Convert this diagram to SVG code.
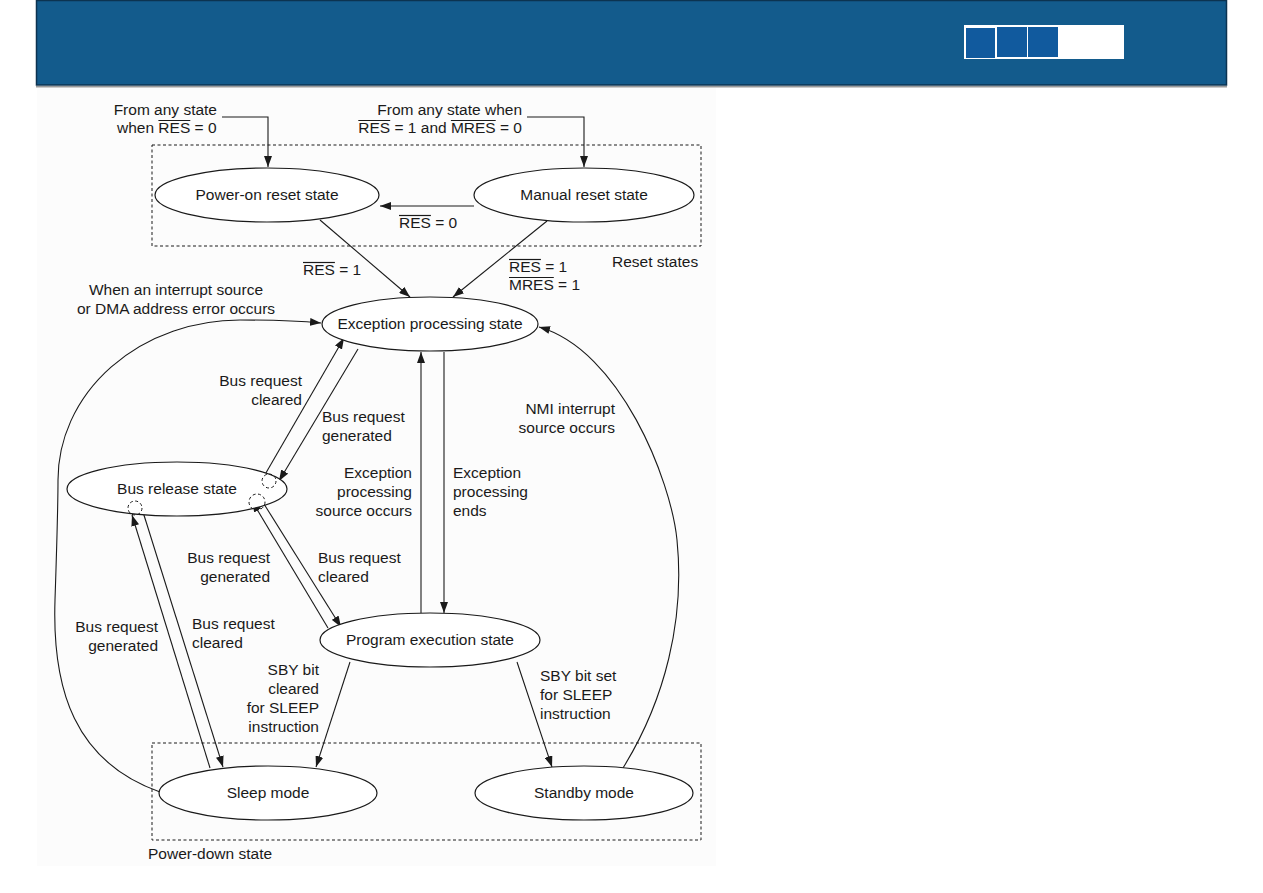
<svg xmlns="http://www.w3.org/2000/svg" width="1263" height="893" viewBox="0 0 1263 893">
<style>
text{font-family:"Liberation Sans",Arial,sans-serif;font-size:15.5px;fill:#1a1a1a}
.node ellipse{fill:#fff;stroke:#1a1a1a;stroke-width:1.2}
.c{text-anchor:middle}
.r{text-anchor:end}
.ovl line{stroke:#1a1a1a;stroke-width:1.2}
.conn path,.conn line,.conn polyline{fill:none;stroke:#1a1a1a;stroke-width:1.1;marker-end:url(#ah)}
.dash{fill:none;stroke:#1a1a1a;stroke-width:1;stroke-dasharray:3 2.5}
</style>
<defs>
<marker id="ah" markerUnits="userSpaceOnUse" markerWidth="11" markerHeight="8" refX="11" refY="4" orient="auto"><path d="M0,0 L11,4 L0,8 z" fill="#1a1a1a"/></marker>
</defs>
<rect width="1263" height="893" fill="#fff"/>
<g id="header">
<rect x="36" y="86" width="1191" height="1.5" fill="#9a9a9a"/>
<rect x="36.5" y="0.5" width="1190" height="84.5" fill="#135B8C" stroke="#0c3350" stroke-width="1.5"/>
<rect x="964" y="25" width="160" height="34" fill="#fff"/>
<rect x="966" y="28" width="29" height="30" fill="#115A9E"/>
<rect x="997" y="27" width="30" height="30" fill="#115A9E"/>
<rect x="1028" y="27" width="30" height="30" fill="#115A9E"/>
</g>
<rect x="37" y="88" width="679" height="778" fill="#fcfcfc"/>
<g id="groups">
<rect class="dash" x="152" y="145" width="549" height="101"/>
<text x="612" y="267">Reset states</text>
<rect class="dash" x="152" y="743" width="549" height="97"/>
<text x="148" y="859">Power-down state</text>
</g>
<g class="conn" id="connectors">
<polyline points="222,117 268,117 268,167"/>
<polyline points="527,117 584,117 584,167"/>
<line x1="474" y1="206" x2="380" y2="206"/>
<line x1="320" y1="220" x2="410" y2="297"/>
<line x1="547" y1="221" x2="453" y2="297"/>
<line x1="263" y1="478" x2="344" y2="338"/>
<line x1="358" y1="349" x2="279" y2="481"/>
<line x1="421" y1="613" x2="421" y2="352"/>
<line x1="444" y1="352" x2="444" y2="613"/>
<line x1="328" y1="628" x2="252" y2="501"/>
<line x1="264" y1="504" x2="341" y2="627"/>
<line x1="210" y1="768" x2="132" y2="515"/>
<line x1="143" y1="512" x2="223" y2="767"/>
<line x1="350" y1="662" x2="316" y2="767"/>
<line x1="517" y1="662" x2="552" y2="767"/>
<path d="M160,792 C 75,762 52,690 55,600 S 58,500 58,480 A182,160 0 0 1 240,320 C 270,320 300,321 321,323"/>
<path d="M623,768 C 665,700 685,620 677,540 C 671,480 620,350 539,327"/>
</g>
<g id="labels">
<text class="r" x="217" y="115">From any state</text>
<text x="117" y="133">when RES = 0</text>
<text class="r" x="522" y="115">From any state when</text>
<text x="358.3" y="133">RES = 1 and MRES = 0</text>
<text x="399" y="228">RES = 0</text>
<text x="303" y="275">RES = 1</text>
<text x="509" y="272">RES = 1</text>
<text x="509" y="290">MRES = 1</text>
<text class="c" x="176" y="295">When an interrupt source</text>
<text class="c" x="176" y="314">or DMA address error occurs</text>
<text class="r" x="302" y="386">Bus request</text>
<text class="r" x="302" y="405">cleared</text>
<text x="322" y="422">Bus request</text>
<text x="322" y="441">generated</text>
<text class="r" x="615" y="414">NMI interrupt</text>
<text class="r" x="615" y="433">source occurs</text>
<text class="r" x="412" y="478">Exception</text>
<text class="r" x="412" y="497">processing</text>
<text class="r" x="412" y="516">source occurs</text>
<text x="453" y="478">Exception</text>
<text x="453" y="497">processing</text>
<text x="453" y="516">ends</text>
<text class="r" x="270" y="563">Bus request</text>
<text class="r" x="270" y="582">generated</text>
<text x="318" y="563">Bus request</text>
<text x="318" y="582">cleared</text>
<text class="r" x="158" y="632">Bus request</text>
<text class="r" x="158" y="651">generated</text>
<text x="192" y="629">Bus request</text>
<text x="192" y="648">cleared</text>
<text class="r" x="319" y="675">SBY bit</text>
<text class="r" x="319" y="694">cleared</text>
<text class="r" x="319" y="713">for SLEEP</text>
<text class="r" x="319" y="732">instruction</text>
<text x="540" y="681">SBY bit set</text>
<text x="540" y="700">for SLEEP</text>
<text x="540" y="719">instruction</text>
</g>
<g class="ovl" id="overlines">
<line x1="158.4" y1="120.5" x2="190.3" y2="120.5"/>
<line x1="358.3" y1="120.5" x2="390.2" y2="120.5"/>
<line x1="450.9" y1="120.5" x2="495.7" y2="120.5"/>
<line x1="399" y1="215.5" x2="430.9" y2="215.5"/>
<line x1="303" y1="262.5" x2="334.9" y2="262.5"/>
<line x1="509" y1="259.5" x2="540.9" y2="259.5"/>
<line x1="509" y1="277.5" x2="553.8" y2="277.5"/>
</g>
<g class="node" id="power-on"><ellipse cx="267" cy="195" rx="112" ry="27"/><text class="c" x="267" y="200">Power-on reset state</text></g>
<g class="node" id="manual"><ellipse cx="584" cy="195" rx="110" ry="27"/><text class="c" x="584" y="200">Manual reset state</text></g>
<g class="node" id="exception"><ellipse cx="430" cy="324" rx="108" ry="27"/><text class="c" x="430" y="329">Exception processing state</text></g>
<g class="node" id="bus-release"><ellipse cx="177" cy="489" rx="110" ry="27"/><text class="c" x="177" y="494">Bus release state</text></g>
<g class="node" id="program"><ellipse cx="430" cy="640" rx="110" ry="27"/><text class="c" x="430" y="645">Program execution state</text></g>
<g class="node" id="sleep"><ellipse cx="268" cy="793" rx="109" ry="27"/><text class="c" x="268" y="798">Sleep mode</text></g>
<g class="node" id="standby"><ellipse cx="584" cy="793" rx="109" ry="27"/><text class="c" x="584" y="798">Standby mode</text></g>
<g id="markers-dashed">
<circle class="dash" cx="269" cy="481" r="7"/>
<circle class="dash" cx="257" cy="502" r="8"/>
<circle class="dash" cx="135" cy="508" r="7"/>
</g>
</svg>
